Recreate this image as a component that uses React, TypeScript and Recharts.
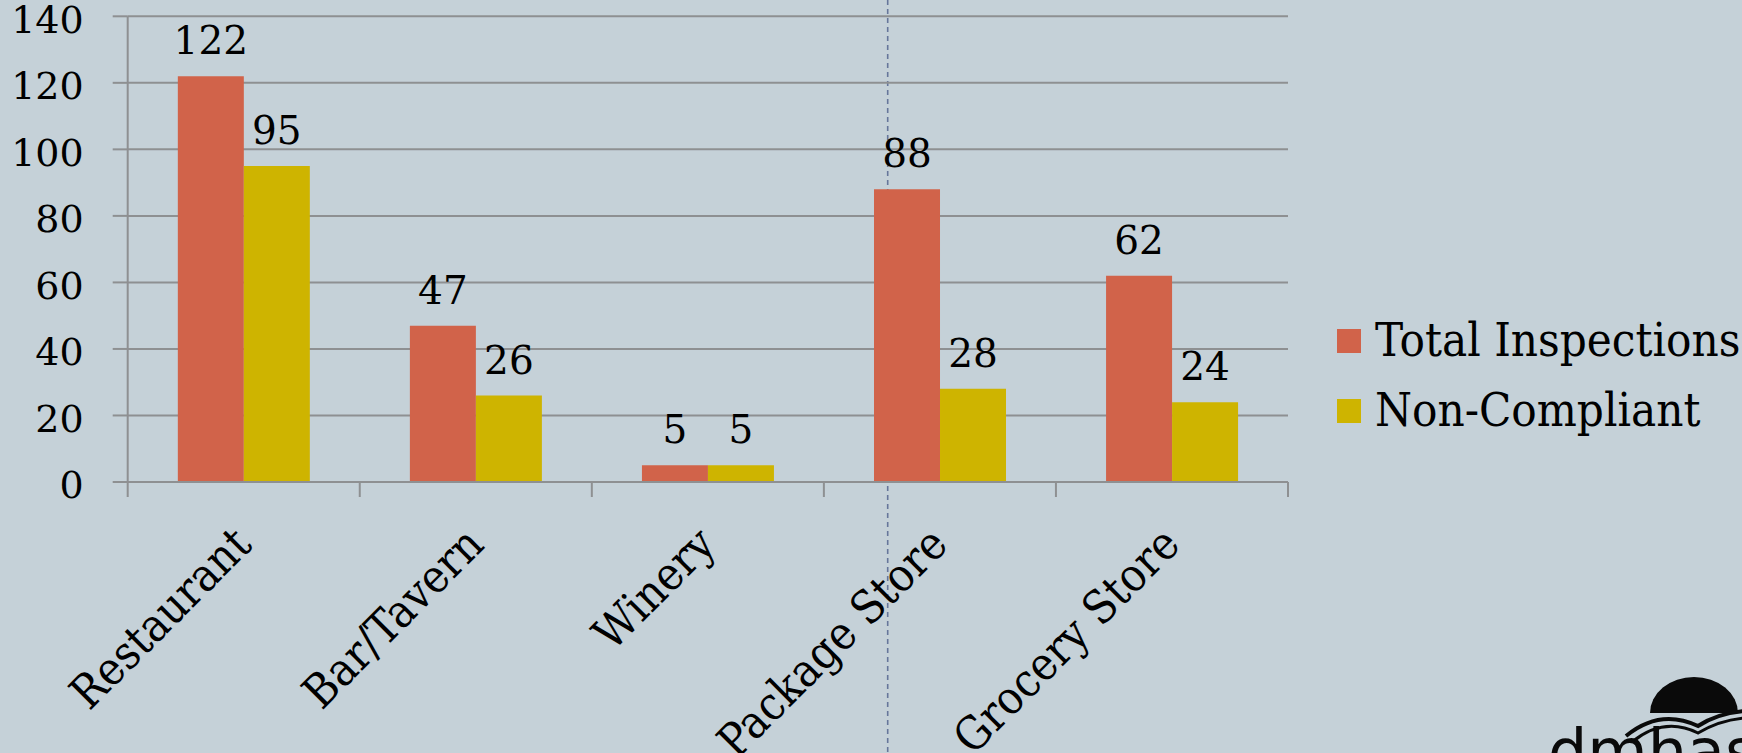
import React from 'react';
import { BarChart, Bar, XAxis, YAxis, CartesianGrid, Legend, LabelList } from 'recharts';

// Inspection counts by outlet type
const categories = ['Restaurant', 'Bar/Tavern', 'Winery', 'Package Store', 'Grocery Store'];
const totalInspections = [122, 47, 5, 88, 62];
const nonCompliant = [95, 26, 5, 28, 24];
const seriesNames = ['Total Inspections', 'Non-Compliant'];
const yTicks = [0, 20, 40, 60, 80, 100, 120, 140];

const data = categories.map((name, i) => ({
  name,
  total: totalInspections[i],
  non: nonCompliant[i],
}));

const W = 1742;
const H = 753;
const BG = '#C5D1D8';
const RED = '#D1634A';
const GOLD = '#CEB400';
const GRID = '#8E9092';
const SERIF = "'DejaVu Serif', serif";
const LABEL_FONT = "'DejaVu Serif Condensed', 'DejaVu Serif', serif";

// Category label, rotated, plus tick marks on the band edges
const CategoryTick = (props: any) => {
  const { x, y, payload, index } = props;
  const half = payload && typeof payload.offset === 'number' && payload.offset > 0 ? payload.offset : 116;
  const ax = x + 10;
  const ay = y + 50;
  return (
    <g>
      <line x1={x - half} x2={x - half} y1={y - 15} y2={y} stroke={GRID} strokeWidth={2} />
      {index === categories.length - 1 && (
        <line x1={x + half} x2={x + half} y1={y - 15} y2={y} stroke={GRID} strokeWidth={2} />
      )}
      <text
        x={ax}
        y={ay}
        transform={`rotate(-45 ${ax} ${ay})`}
        textAnchor="end"
        fontSize={46}
        fontFamily={LABEL_FONT}
        fill="#000"
      >
        {payload.value}
      </text>
    </g>
  );
};

// Legend rows in series order: coloured square, then the series name
const LegendContent = (props: any) => {
  const items = [...(props.payload || [])].sort(
    (a: any, b: any) => seriesNames.indexOf(a.value) - seriesNames.indexOf(b.value)
  );
  return (
    <svg width={405} height={140} style={{ display: 'block' }}>
      {items.map((p: any, i: number) => (
        <g key={p.value}>
          <rect x={0} y={19 + 70 * i} width={24} height={24} fill={p.color} />
          <text x={38} y={45.5 + 70 * i} fontSize={47} fontFamily={LABEL_FONT} fill="#000">
            {p.value}
          </text>
        </g>
      ))}
    </svg>
  );
};

export default function App() {
  return (
    <div
      style={{
        position: 'absolute',
        left: 0,
        top: 0,
        width: W,
        height: H,
        background: BG,
        overflow: 'hidden',
      }}
    >
      {/* vertical dashed guide behind the chart */}
      <svg width={W} height={H} style={{ position: 'absolute', left: 0, top: 0 }}>
        <line x1={887.7} x2={887.7} y1={0} y2={H} stroke="#66769A" strokeWidth={1.6} strokeDasharray="5 4" />
      </svg>

      <div style={{ position: 'absolute', left: 0, top: 0 }}>
        <BarChart
          width={W}
          height={H}
          data={data}
          margin={{ top: 16.3, right: 454, bottom: 71, left: 0 }}
          barCategoryGap="21.6%"
          barGap={0}
        >
          <CartesianGrid vertical={false} stroke={GRID} strokeWidth={2} />
          <XAxis
            dataKey="name"
            height={200}
            interval={0}
            tickSize={15}
            tickMargin={0}
            tickLine={false}
            axisLine={{ stroke: GRID, strokeWidth: 2 }}
            tick={<CategoryTick />}
          />
          <YAxis
            width={127.7}
            domain={[0, 140]}
            ticks={yTicks}
            interval={0}
            tickSize={15}
            tickMargin={29}
            axisLine={{ stroke: GRID, strokeWidth: 2 }}
            tickLine={{ stroke: GRID, strokeWidth: 2 }}
            tick={{ fill: '#000', fontSize: 38, fontFamily: SERIF, dy: 3 }}
          />
          <Legend
            layout="horizontal"
            align="center"
            verticalAlign="middle"
            content={<LegendContent />}
            wrapperStyle={{ position: 'absolute', left: 1337, top: 310, width: 405, height: 140 }}
          />
          <Bar dataKey="total" name={seriesNames[0]} fill={RED} isAnimationActive={false}>
            <LabelList dataKey="total" position="top" offset={22} fill="#000" fontSize={39} fontFamily={SERIF} />
          </Bar>
          <Bar dataKey="non" name={seriesNames[1]} fill={GOLD} isAnimationActive={false}>
            <LabelList dataKey="non" position="top" offset={22} fill="#000" fontSize={39} fontFamily={SERIF} />
          </Bar>
        </BarChart>
      </div>

      {/* agency mark, bottom right */}
      <svg width={W} height={H} style={{ position: 'absolute', left: 0, top: 0 }}>
        <path d="M1650 713 A44 36 0 0 1 1738 713 Z" fill="#0A0A0A" />
        <path d="M1626 736 Q1660 708 1698 726 Q1718 713 1745 711" fill="none" stroke="#0A0A0A" strokeWidth={4} />
        <path d="M1632 742 Q1664 716 1698 733 Q1720 720 1745 718" fill="none" stroke="#0A0A0A" strokeWidth={3} />
        <text x={1548} y={773} fontSize={62} fontFamily="'DejaVu Sans', sans-serif" fill="#0A0A0A">
          dmhas
        </text>
      </svg>
    </div>
  );
}
